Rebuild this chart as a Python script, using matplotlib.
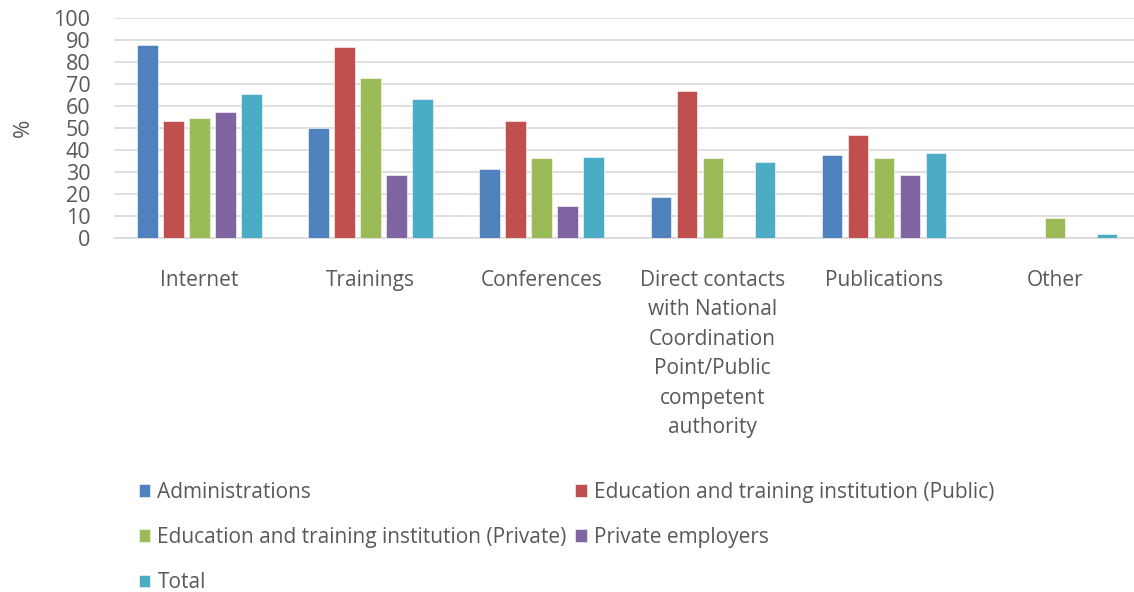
import matplotlib.pyplot as plt
import numpy as np

plt.rcParams['font.family'] = ['Open Sans', 'DejaVu Sans']

categories = ['Internet', 'Trainings', 'Conferences',
              'Direct contacts\nwith National\nCoordination\nPoint/Public\ncompetent\nauthority',
              'Publications', 'Other']
series = ['Administrations',
          'Education and training institution (Public)',
          'Education and training institution (Private)',
          'Private employers',
          'Total']
administrations = [87.5, 50.0, 31.3, 18.8, 37.5, 0]
edu_public = [53.3, 86.7, 53.3, 66.7, 46.7, 0]
edu_private = [54.5, 72.7, 36.4, 36.4, 36.4, 9.1]
private_employers = [57.1, 28.6, 14.3, 0, 28.6, 0]
total = [65.3, 63.3, 36.7, 34.7, 38.8, 2.0]
values = [administrations, edu_public, edu_private, private_employers, total]

colors = ['#4F81BD', '#C0504D', '#9BBB59', '#8064A2', '#4BACC6']
text_color = '#595959'

fig = plt.figure(figsize=(11.34, 5.92), dpi=100)
ax = fig.add_axes([0.1005, 0.598, 0.905, 0.372])

x = np.arange(len(categories))
slot = 0.152
bars = []
for i, (name, vals) in enumerate(zip(series, values)):
    b = ax.bar(x + (i - 2) * slot, vals, width=0.118, color=colors[i],
               edgecolor='white', linewidth=0.4, label=name, zorder=3)
    bars.append(b)

ax.set_xlim(-0.5, len(categories) - 0.5)
ax.set_ylim(0, 100)
ax.set_yticks(range(0, 101, 10))
ax.yaxis.grid(True, color='#D9D9D9', linewidth=1.2, zorder=0)
ax.set_axisbelow(True)
for s in ['top', 'right', 'left']:
    ax.spines[s].set_visible(False)
ax.spines['bottom'].set_color('#D9D9D9')
ax.spines['bottom'].set_linewidth(1.2)
ax.tick_params(length=0)
ax.tick_params(axis='y', labelsize=15.5, labelcolor=text_color, pad=17)
ax.set_xticks(x)
ax.set_xticklabels(categories, fontsize=15, color=text_color, linespacing=1.53)
ax.tick_params(axis='x', pad=23)
ax.set_ylabel('%', fontsize=16, color=text_color)
ax.yaxis.set_label_coords(-0.078, 0.5)

order = [0, 2, 4, 1, 3]
leg = fig.legend([bars[i] for i in order], [series[i] for i in order],
                 loc='upper left', bbox_to_anchor=(0.115, 0.200), ncol=2,
                 frameon=False, fontsize=15, labelcolor=text_color,
                 handlelength=0.55, handleheight=0.55, handletextpad=0.35,
                 labelspacing=1.16, columnspacing=0.4, borderaxespad=0)

plt.savefig('out.png', dpi=100)
